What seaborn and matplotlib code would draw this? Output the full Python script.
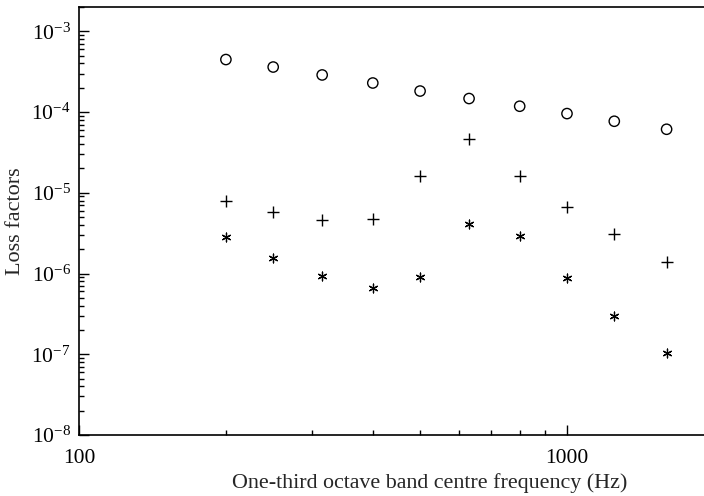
import matplotlib
matplotlib.use("Agg")
import matplotlib.pyplot as plt
import matplotlib.ticker as mticker
import seaborn as sns
import numpy as np

# Data
freq = [200, 250, 315, 400, 500, 630, 800, 1000, 1250, 1600]
circles = [4.47e-4, 3.61e-4, 2.88e-4, 2.29e-4, 1.82e-4, 1.47e-4, 1.18e-4, 9.57e-5, 7.69e-5, 6.12e-5]
pluses = [7.94e-6, 5.81e-6, 4.58e-6, 4.71e-6, 1.60e-5, 4.70e-5, 1.60e-5, 6.68e-6, 3.05e-6, 1.40e-6]
stars = [2.80e-6, 1.54e-6, 9.29e-7, 6.65e-7, 8.95e-7, 4.05e-6, 2.90e-6, 8.69e-7, 2.97e-7, 1.05e-7]

x_major = [100, 1000]
x_minor = [200, 300, 400, 500, 600, 700, 800, 900]
y_major = [1e-8, 1e-7, 1e-6, 1e-5, 1e-4, 1e-3]

sns.set_style("ticks")
plt.rcParams["font.family"] = ["Liberation Serif", "DejaVu Serif"]
plt.rcParams["mathtext.fontset"] = "custom"
plt.rcParams["mathtext.rm"] = "Liberation Serif"
plt.rcParams["mathtext.it"] = "Liberation Serif:italic"

fig = plt.figure(figsize=(7.04, 4.96), dpi=100)
ax = fig.add_axes([79 / 704, 61 / 496, 1.301 * 488 / 704, 428 / 496])

sns.scatterplot(x=freq, y=circles, marker="o", s=55, facecolors="none",
                edgecolor="black", linewidth=1.0, ax=ax)
sns.scatterplot(x=freq, y=pluses, marker="+", s=75, color="black",
                linewidth=1.0, ax=ax)
sns.scatterplot(x=freq, y=stars, marker=(6, 2, 0), s=40, color="black",
                edgecolor="black", linewidth=0.9, ax=ax)

ax.set_xscale("log")
ax.set_yscale("log")
ax.set_xlim(100, 2000)
ax.set_ylim(1e-8, 2e-3)

ax.xaxis.set_major_locator(mticker.FixedLocator(x_major))
ax.xaxis.set_major_formatter(mticker.FixedFormatter([str(v) for v in x_major]))
ax.xaxis.set_minor_locator(mticker.FixedLocator(x_minor))
ax.xaxis.set_minor_formatter(mticker.NullFormatter())

ax.yaxis.set_major_locator(mticker.FixedLocator(y_major))
ax.yaxis.set_major_formatter(mticker.FuncFormatter(
    lambda v, p: r"$\mathregular{10^{%d}}$" % int(round(np.log10(v)))))
ax.yaxis.set_minor_locator(mticker.LogLocator(base=10, subs=np.arange(2, 10), numticks=20))
ax.yaxis.set_minor_formatter(mticker.NullFormatter())

ax.tick_params(which="both", direction="in", top=False, right=False, colors="black")
ax.tick_params(which="major", length=7, width=1.0, labelsize=15.5, pad=6)
ax.tick_params(axis="x", which="major", pad=10)
ax.tick_params(which="minor", length=3.5, width=1.0)

for sp in ax.spines.values():
    sp.set_visible(True)
    sp.set_color("black")
    sp.set_linewidth(1.2)

ax.set_xlabel("One-third octave band centre frequency (Hz)", fontsize=15.8)
ax.xaxis.set_label_coords((430 - 79) / 635, -(483 - 435) / 428, transform=ax.transAxes)
ax.xaxis.label.set_va("center")
ax.set_ylabel("Loss factors", fontsize=16)
ax.yaxis.set_label_coords(-(79 - 15) / 635, 0.5, transform=ax.transAxes)
ax.yaxis.label.set_va("center")

fig.savefig("out.png", dpi=100)
